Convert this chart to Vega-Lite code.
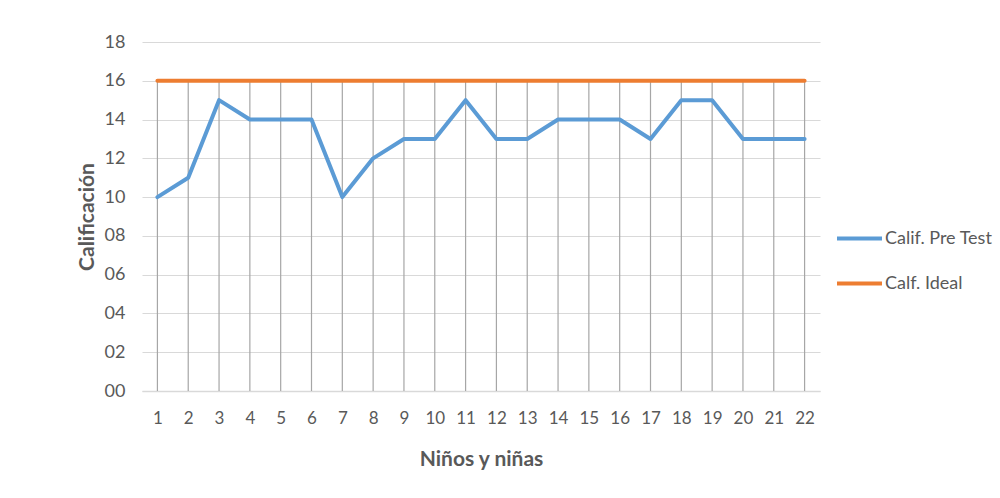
{
  "$schema": "https://vega.github.io/schema/vega-lite/v6.json",
  "width": 678,
  "height": 349,
  "autosize": {"type": "none"},
  "padding": {"left": 142, "top": 42, "right": 180, "bottom": 107},
  "background": "white",
  "config": {
    "view": {"stroke": null},
    "font": "Lato",
    "axis": {"labelFont": "Lato", "titleFont": "Lato", "labelColor": "#595959", "titleColor": "#595959"}
  },
  "data": {
    "values": [
      {"n": 1, "serie": "Calif. Pre Test", "v": 10},
      {"n": 2, "serie": "Calif. Pre Test", "v": 11},
      {"n": 3, "serie": "Calif. Pre Test", "v": 15},
      {"n": 4, "serie": "Calif. Pre Test", "v": 14},
      {"n": 5, "serie": "Calif. Pre Test", "v": 14},
      {"n": 6, "serie": "Calif. Pre Test", "v": 14},
      {"n": 7, "serie": "Calif. Pre Test", "v": 10},
      {"n": 8, "serie": "Calif. Pre Test", "v": 12},
      {"n": 9, "serie": "Calif. Pre Test", "v": 13},
      {"n": 10, "serie": "Calif. Pre Test", "v": 13},
      {"n": 11, "serie": "Calif. Pre Test", "v": 15},
      {"n": 12, "serie": "Calif. Pre Test", "v": 13},
      {"n": 13, "serie": "Calif. Pre Test", "v": 13},
      {"n": 14, "serie": "Calif. Pre Test", "v": 14},
      {"n": 15, "serie": "Calif. Pre Test", "v": 14},
      {"n": 16, "serie": "Calif. Pre Test", "v": 14},
      {"n": 17, "serie": "Calif. Pre Test", "v": 13},
      {"n": 18, "serie": "Calif. Pre Test", "v": 15},
      {"n": 19, "serie": "Calif. Pre Test", "v": 15},
      {"n": 20, "serie": "Calif. Pre Test", "v": 13},
      {"n": 21, "serie": "Calif. Pre Test", "v": 13},
      {"n": 22, "serie": "Calif. Pre Test", "v": 13},
      {"n": 1, "serie": "Calf. Ideal", "v": 16},
      {"n": 2, "serie": "Calf. Ideal", "v": 16},
      {"n": 3, "serie": "Calf. Ideal", "v": 16},
      {"n": 4, "serie": "Calf. Ideal", "v": 16},
      {"n": 5, "serie": "Calf. Ideal", "v": 16},
      {"n": 6, "serie": "Calf. Ideal", "v": 16},
      {"n": 7, "serie": "Calf. Ideal", "v": 16},
      {"n": 8, "serie": "Calf. Ideal", "v": 16},
      {"n": 9, "serie": "Calf. Ideal", "v": 16},
      {"n": 10, "serie": "Calf. Ideal", "v": 16},
      {"n": 11, "serie": "Calf. Ideal", "v": 16},
      {"n": 12, "serie": "Calf. Ideal", "v": 16},
      {"n": 13, "serie": "Calf. Ideal", "v": 16},
      {"n": 14, "serie": "Calf. Ideal", "v": 16},
      {"n": 15, "serie": "Calf. Ideal", "v": 16},
      {"n": 16, "serie": "Calf. Ideal", "v": 16},
      {"n": 17, "serie": "Calf. Ideal", "v": 16},
      {"n": 18, "serie": "Calf. Ideal", "v": 16},
      {"n": 19, "serie": "Calf. Ideal", "v": 16},
      {"n": 20, "serie": "Calf. Ideal", "v": 16},
      {"n": 21, "serie": "Calf. Ideal", "v": 16},
      {"n": 22, "serie": "Calf. Ideal", "v": 16}
    ]
  },
  "encoding": {
    "x": {
      "field": "n",
      "type": "ordinal",
      "scale": {"type": "point", "padding": 0.5},
      "axis": {
        "title": "Niños y niñas",
        "labelAngle": 0,
        "labelFontSize": 17,
        "labelPadding": 19,
        "ticks": false,
        "domain": true,
        "domainColor": "#D9D9D9",
        "domainWidth": 1.5,
        "grid": false,
        "titleFontSize": 21,
        "titleFontWeight": "bold",
        "titlePadding": 22
      }
    },
    "y": {
      "field": "v",
      "type": "quantitative",
      "scale": {"domain": [0, 18]},
      "axis": {
        "title": "Calificación",
        "values": [0, 2, 4, 6, 8, 10, 12, 14, 16, 18],
        "format": "02d",
        "labelFontSize": 18,
        "labelPadding": 17,
        "ticks": false,
        "domain": false,
        "grid": true,
        "gridColor": "#D9D9D9",
        "gridWidth": 1.2,
        "titleFontSize": 21,
        "titleFontWeight": "bold",
        "titlePadding": 7
      }
    }
  },
  "layer": [
    {
      "transform": [{"filter": "datum.serie === 'Calf. Ideal'"}],
      "mark": {"type": "rule", "color": "#A6A6A6", "strokeWidth": 1.2},
      "encoding": {"y2": {"datum": 0}}
    },
    {
      "mark": {"type": "line", "strokeWidth": 4, "strokeJoin": "round", "strokeCap": "round"},
      "encoding": {
        "color": {
          "field": "serie",
          "type": "nominal",
          "scale": {"domain": ["Calif. Pre Test", "Calf. Ideal"], "range": ["#5B9BD5", "#ED7D31"]},
          "legend": {
            "title": null,
            "orient": "none",
            "legendX": 693,
            "legendY": 172,
            "symbolType": "stroke",
            "symbolSize": 2025,
            "symbolStrokeWidth": 4,
            "labelFontSize": 18,
            "labelColor": "#595959",
            "labelFont": "Lato",
            "rowPadding": 11,
            "labelOffset": 1
          }
        }
      }
    }
  ]
}
